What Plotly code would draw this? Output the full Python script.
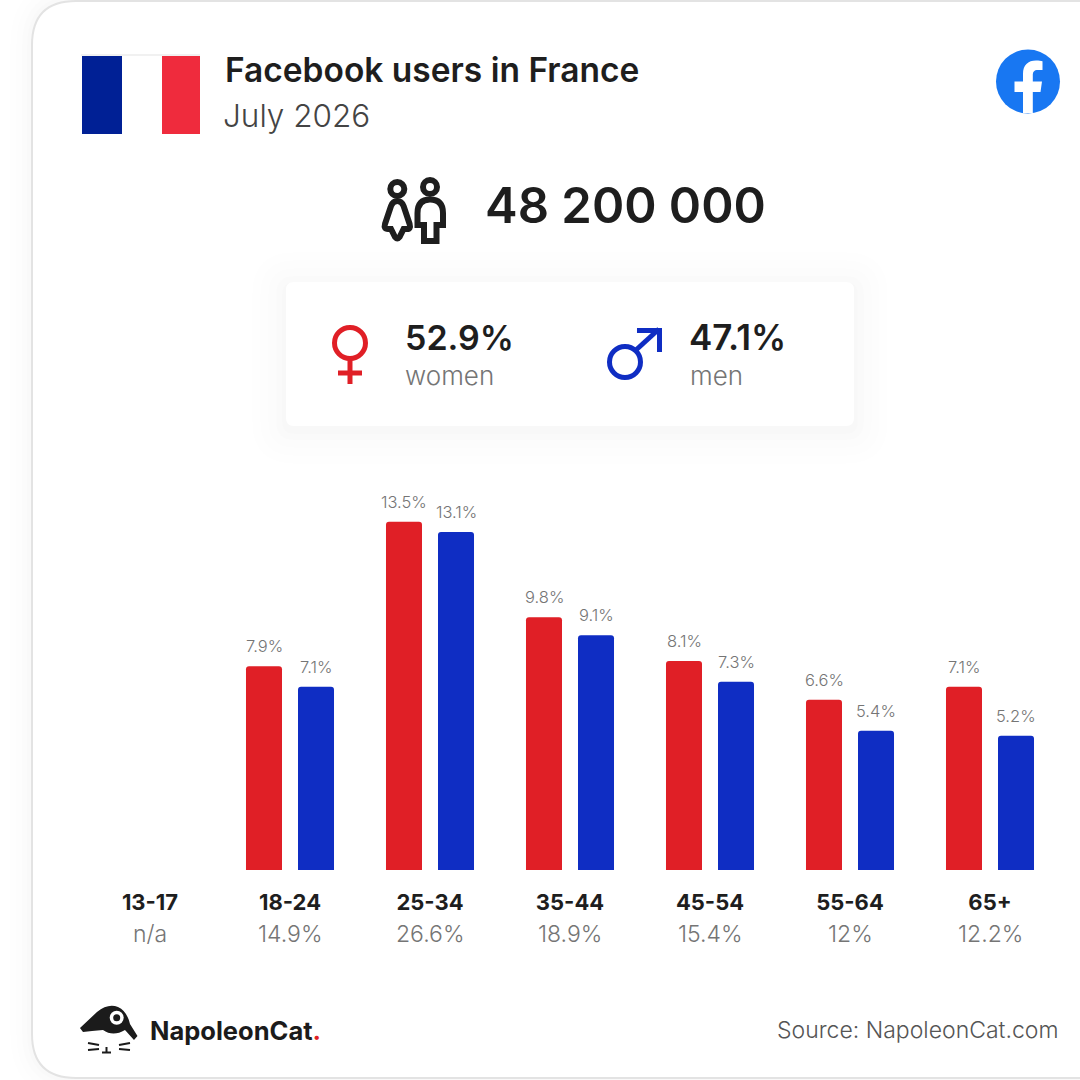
import re
import plotly.graph_objects as go

# data
age_groups = ['13-17', '18-24', '25-34', '35-44', '45-54', '55-64', '65+']
women = [None, 7.9, 13.5, 9.8, 8.1, 6.6, 7.1]
men = [None, 7.1, 13.1, 9.1, 7.3, 5.4, 5.2]
totals = ['n/a', '14.9%', '26.6%', '18.9%', '15.4%', '12%', '12.2%']
women_total = '52.9%'
men_total = '47.1%'
users = '48 200 000'

RED = '#e01f26'
BLUE = '#0f2dc3'
DARK = '#1e1e1e'
GREY = '#757575'
FONT = 'Inter'
SIZE = 1080


def fx(x):
    return x / SIZE


def fy(y):
    return 1 - y / SIZE


# path written in pixels, converted to paper coords
def px_path(d):
    nums = []

    def conv(m):
        nums.append(1)
        v = float(m.group(0))
        return f'{fx(v):.5f}' if len(nums) % 2 == 1 else f'{fy(v):.5f}'

    return re.sub(r'-?\d+\.?\d*', conv, d)


def round_rect(x0, y0, x1, y1, r):
    return (f'M {x0 + r} {y0} L {x1 - r} {y0} Q {x1} {y0} {x1} {y0 + r} '
            f'L {x1} {y1 - r} Q {x1} {y1} {x1 - r} {y1} L {x0 + r} {y1} '
            f'Q {x0} {y1} {x0} {y1 - r} L {x0} {y0 + r} Q {x0} {y0} {x0 + r} {y0} Z')


shapes = []


def add_path(d, fill=None, line=None, width=0, opacity=1):
    shapes.append(dict(type='path', xref='paper', yref='paper', path=px_path(d),
                       fillcolor=fill or 'rgba(0,0,0,0)',
                       line=dict(color=line or 'rgba(0,0,0,0)', width=width),
                       opacity=opacity, layer='below'))


def add_rect(x0, y0, x1, y1, fill):
    shapes.append(dict(type='rect', xref='paper', yref='paper', x0=fx(x0), x1=fx(x1),
                       y0=fy(y1), y1=fy(y0), fillcolor=fill, line=dict(width=0), layer='below'))


def add_circle(cx, cy, r, fill=None, line=None, width=0):
    shapes.append(dict(type='circle', xref='paper', yref='paper',
                       x0=fx(cx - r), x1=fx(cx + r), y0=fy(cy + r), y1=fy(cy - r),
                       fillcolor=fill or 'rgba(0,0,0,0)',
                       line=dict(color=line or 'rgba(0,0,0,0)', width=width), layer='below'))


# card with soft shadow on the left
for grow, alpha in [(22, 0.004), (16, 0.005), (10, 0.006), (5, 0.008)]:
    add_path(round_rect(32 - grow, 1 - grow, 1140, 1078 + grow, 44 + grow), fill=f'rgba(0,0,0,{alpha})')
add_path(round_rect(32, 1, 1140, 1078, 44), fill='white', line='#e3e3e3', width=2)

# flag
add_rect(81, 54, 200, 56, '#f1f1f1')
add_rect(82, 56, 122, 134, '#002095')
add_rect(162, 56, 200, 134, '#ef2b3d')

# facebook logo
add_circle(1028, 81.5, 32, fill='#1877f2')
add_path('M 1023 113 L 1023 92 L 1014.5 92 L 1014.5 81.5 L 1023 81.5 L 1023 74 '
         'C 1023 65 1028 60.5 1036 60.5 C 1039 60.5 1041 61 1042.5 61.2 L 1042.5 70 L 1038 70 '
         'C 1034 70 1032.8 72 1032.8 75 L 1032.8 81.5 L 1042 81.5 L 1040.5 92 L 1032.8 92 L 1032.8 113 Z',
         fill='white')

# people icon
add_circle(397.3, 189, 7, line=DARK, width=6)
add_path('M 397.3 201 Q 393 201 391 206 L 385 224 Q 383.5 229 388 229 L 391 229 '
         'L 395 237 Q 397.3 240 399.6 237 L 403.6 229 L 407 229 Q 411 229 409.6 224 L 403.6 206 Q 401.6 201 397.3 201 Z',
         line=DARK, width=6)
add_circle(430, 187, 7, line=DARK, width=6)
add_path('M 424 241 L 436.5 241 L 436.5 225 L 443 225 L 443 213.3 Q 443 199.5 430 199.5 '
         'Q 417.5 199.5 417.5 213.3 L 417.5 225 L 424 225 Z', line=DARK, width=6)

# gender panel
for grow, alpha in [(34, 0.004), (26, 0.004), (18, 0.005), (10, 0.006), (4, 0.006)]:
    add_path(round_rect(286 - grow, 282 - grow + 4, 854 + grow, 426 + grow + 4, 8 + grow), fill=f'rgba(0,0,0,{alpha})')
add_path(round_rect(286, 282, 854, 426, 8), fill='white')

# female sign
add_circle(350, 343, 15.5, line=RED, width=5)
add_path('M 350 360 L 350 384', line=RED, width=5)
add_path('M 338 373 L 362 373', line=RED, width=5)

# male sign
add_circle(625, 362, 15.5, line=BLUE, width=5)
add_path('M 636 350 L 659 329', line=BLUE, width=5)
add_path('M 637 328 L 662 328 L 662 352 L 657 352 L 657 333 L 637 333 Z', fill=BLUE)

# napoleoncat logo
add_path('M 80 1028 L 97 1012 Q 108 1003 118 1007 Q 127 1011 130 1024 L 137.5 1036 L 134 1040 '
         'L 125 1030 Q 113 1037 103 1030 L 92 1031 L 83 1032 Z', fill='#1b1b1b')
add_circle(116.7, 1017.7, 7, fill='white')
add_circle(116.7, 1017.7, 3.5, fill='#1b1b1b')
for d in ['M 88 1043 L 99 1045', 'M 88 1050 L 99 1049', 'M 119 1045 L 130 1043', 'M 119 1049 L 130 1050',
          'M 106.5 1047 L 106.5 1052', 'M 102 1052.5 L 111 1052.5']:
    add_path(d, line='#1b1b1b', width=2)


# text helper
def label(x, y, text, size, color=DARK, weight=400, anchor='left', xref='paper'):
    return dict(x=x if xref != 'paper' else fx(x), y=fy(y), xref=xref, yref='paper', text=text,
                showarrow=False, xanchor=anchor, yanchor='middle',
                font=dict(family=FONT, size=size, color=color, weight=weight))


annotations = [
    label(223, 70, 'Facebook users in France', 33.5, weight=600),
    label(221, 115, 'July 2026', 31.5, color='#444444', weight=300),
    label(483, 205, users, 49, weight=600),
    label(403, 337, women_total, 34, weight=600),
    label(403, 376, 'women', 26, color=GREY, weight=300),
    label(687, 337, men_total, 35, weight=600),
    label(688, 376, 'men', 26, color=GREY, weight=300),
    label(148, 1030, f'NapoleonCat<span style="color:{RED}">.</span>', 25.5, color='#1b1b1b', weight=700),
    label(1060, 1030, 'Source: NapoleonCat.com', 23, color='#555555', weight=300, anchor='right'),
]
for cat, total in zip(age_groups, totals):
    annotations.append(label(cat, 934, total, 23, color=GREY, weight=300, anchor='center', xref='x'))

fig = go.Figure()
for name, values, color, shift in [('women', women, RED, -26), ('men', men, BLUE, 26)]:
    fig.add_trace(go.Bar(
        name=name, x=age_groups, y=values, marker=dict(color=color, cornerradius=3, line=dict(width=0)),
    ))
    # value labels sit higher above the bars than textposition='outside' allows
    for cat, v in zip(age_groups, values):
        if v is not None:
            annotations.append(dict(x=cat, y=v, xref='x', yref='y', text=f'{v}%', showarrow=False,
                                    xshift=shift, yshift=20, yanchor='middle', xanchor='center',
                                    font=dict(family=FONT, size=16.5, color=GREY, weight=300)))

fig.update_layout(
    width=SIZE, height=SIZE, margin=dict(l=0, r=0, t=0, b=0),
    paper_bgcolor='white', plot_bgcolor='rgba(0,0,0,0)',
    showlegend=False, barmode='group', bargap=0.257, bargroupgap=0.3077,
    shapes=shapes, annotations=annotations,
    xaxis=dict(domain=[fx(80), fx(1060)], range=[-0.5, 6.5], type='category', categoryorder='array',
               categoryarray=age_groups, showgrid=False, zeroline=False, showline=False, ticks='',
               ticklabelstandoff=17, tickfont=dict(family=FONT, size=22, color=DARK, weight=700)),
    yaxis=dict(domain=[fy(870), fy(470)], range=[0, 400 / 25.8], visible=False, fixedrange=True),
)

fig.write_html('out.html', config=dict(displayModeBar=False), post_script="document.body.style.margin='0';")
